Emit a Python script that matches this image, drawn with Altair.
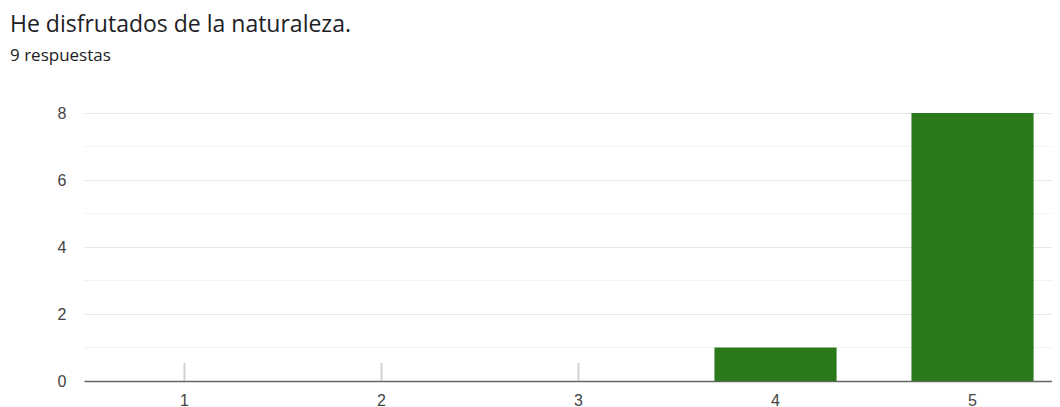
import altair as alt
import pandas as pd

categories = ["1", "2", "3", "4", "5"]
counts = [0, 0, 0, 1, 8]
major_ticks = [0, 2, 4, 6, 8]
minor_ticks = [1, 3, 5, 7]
title_text = "He disfrutados de la naturaleza."
subtitle_text = "9 respuestas"

df = pd.DataFrame({"cat": categories, "n": counts})
minor_df = pd.DataFrame({"v": minor_ticks})

x_enc = alt.X(
    "cat:N",
    sort=categories,
    scale=alt.Scale(paddingInner=0.38, paddingOuter=0.2, range=[0, 989]),
    axis=alt.Axis(
        title=None, labelAngle=0, ticks=False, labelPadding=11,
        labelFontSize=16, labelColor="#444444", labelFont="Liberation Sans",
        domainColor="#666666", domainWidth=1.5, grid=False,
    ),
)
y_scale = alt.Scale(domain=[0, 8], nice=False)
y_axis = alt.Axis(
    title=None, values=major_ticks, ticks=False, labelPadding=18,
    labelFontSize=16, labelColor="#444444", labelFont="Liberation Sans",
    domain=False, grid=True, gridColor="#e6e6e6", gridWidth=1,
)

minor = alt.Chart(minor_df).mark_rule(color="#f3f3f3", strokeWidth=1).encode(
    y=alt.Y("v:Q", scale=y_scale, axis=y_axis)
)

ticks = alt.Chart(df).mark_tick(
    orient="vertical", size=18, thickness=2, color="#bdbdbd", yOffset=-9
).encode(x=x_enc, y=alt.Y(datum=0, scale=y_scale, axis=y_axis))

bars = alt.Chart(df).mark_bar(color="#2a7a1c").encode(
    x=x_enc,
    y=alt.Y("n:Q", scale=y_scale, axis=y_axis),
)

chart = alt.layer(minor, ticks, bars).properties(
    width=968, height=268,
    autosize=alt.AutoSizeParams(type="none"),
    padding={"left": 76, "top": 105, "right": 0, "bottom": 45},
    title=alt.TitleParams(
        text=title_text, subtitle=subtitle_text, anchor="start", frame="group",
        dx=-74, font="Open Sans", fontSize=23, fontWeight="normal", color="#202124",
        subtitleFont="Open Sans", subtitleFontSize=17, subtitleColor="#202124",
        subtitlePadding=11, offset=41,
    ),
).configure_view(stroke=None)

chart.save("out.html", embed_options={"renderer": "svg", "actions": False})
